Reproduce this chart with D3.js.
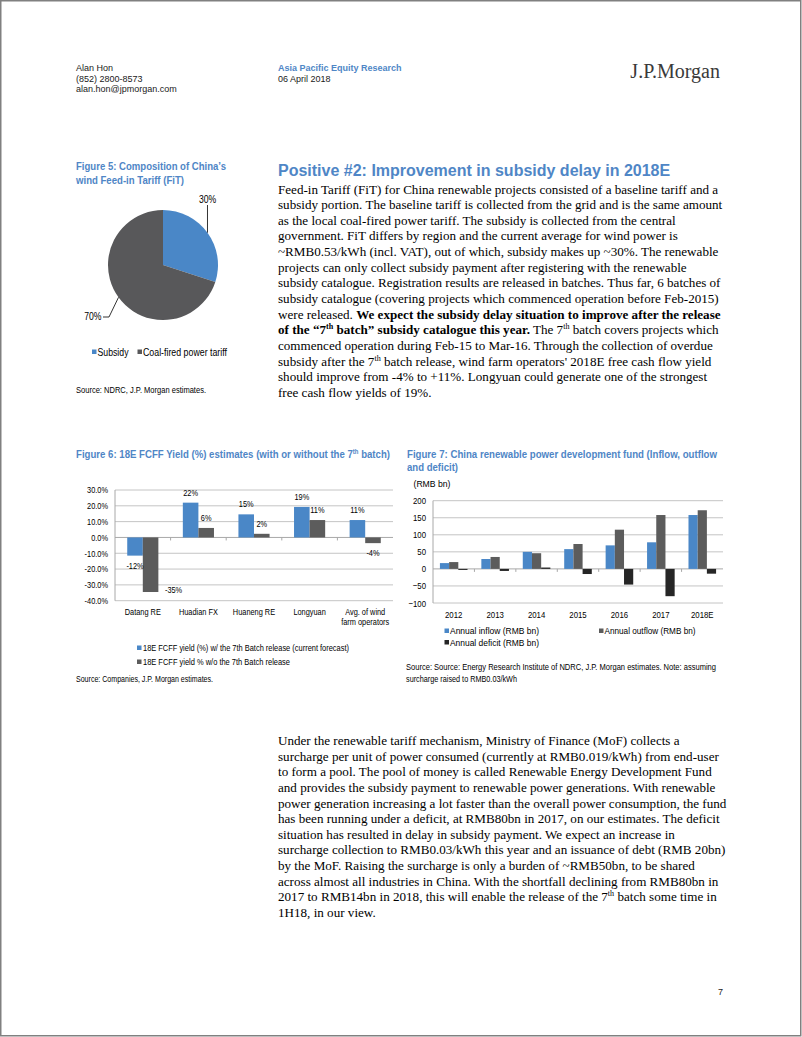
<!DOCTYPE html>
<html><head><meta charset="utf-8">
<script src="https://cdn.jsdelivr.net/npm/d3@7"></script>
<style>
html,body{margin:0;padding:0;background:#fff;}
svg{display:block;}
</style></head><body>
<svg id="page" width="802" height="1037"></svg>
<script>
// ---------------- DATA ----------------
const pieLabels = ["Subsidy", "Coal-fired power tariff"];
const pieValues = [30, 70];
const pieValueLabels = ["30%", "70%"];

const fcffCompanies = ["Datang RE", "Huadian FX", "Huaneng RE", "Longyuan", "Avg. of wind|farm operators"];
const fcffWith = [-11.5, 22, 14.6, 19.3, 11];
const fcffWithout = [-34.5, 6, 2.3, 11, -3.6];
const fcffWithLabels = ["-12%", "22%", "15%", "19%", "11%"];
const fcffWithoutLabels = ["-35%", "6%", "2%", "11%", "-4%"];
const fcffTicks = [30, 20, 10, 0, -10, -20, -30, -40];
const fcffSeries = ["18E FCFF yield (%) w/ the 7th Batch release (current forecast)", "18E FCFF yield % w/o the 7th Batch release"];

const fundYears = ["2012", "2013", "2014", "2015", "2016", "2017", "2018E"];
const fundInflow = [17, 29, 50, 58, 69, 78, 158];
const fundOutflow = [20, 35, 46, 73, 115, 158, 172];
const fundDeficit = [-3, -6, 4, -15, -46, -80, -14];
const fundTicks = [200, 150, 100, 50, 0, -50, -100];
const fundSeries = ["Annual inflow (RMB bn)", "Annual outflow (RMB bn)", "Annual deficit (RMB bn)"];

const bodyTop = [
  "Feed-in Tariff (FiT) for China renewable projects consisted of a baseline tariff and a",
  "subsidy portion. The baseline tariff is collected from the grid and is the same amount",
  "as the local coal-fired power tariff. The subsidy is collected from the central",
  "government. FiT differs by region and the current average for wind power is",
  "~RMB0.53/kWh (incl. VAT), out of which, subsidy makes up ~30%. The renewable",
  "projects can only collect subsidy payment after registering with the renewable",
  "subsidy catalogue. Registration results are released in batches. Thus far, 6 batches of",
  "subsidy catalogue (covering projects which commenced operation before Feb-2015)",
  "were released. **We expect the subsidy delay situation to improve after the release**",
  "**of the \u201c7^th batch\u201d subsidy catalogue this year.** The 7^th batch covers projects which",
  "commenced operation during Feb-15 to Mar-16. Through the collection of overdue",
  "subsidy after the 7^th batch release, wind farm operators' 2018E free cash flow yield",
  "should improve from -4% to +11%. Longyuan could generate one of the strongest",
  "free cash flow yields of 19%."
];
const bodyBottom = [
  "Under the renewable tariff mechanism, Ministry of Finance (MoF) collects a",
  "surcharge per unit of power consumed (currently at RMB0.019/kWh) from end-user",
  "to form a pool. The pool of money is called Renewable Energy Development Fund",
  "and provides the subsidy payment to renewable power generations. With renewable",
  "power generation increasing a lot faster than the overall power consumption, the fund",
  "has been running under a deficit, at RMB80bn in 2017, on our estimates. The deficit",
  "situation has resulted in delay in subsidy payment. We expect an increase in",
  "surcharge collection to RMB0.03/kWh this year and an issuance of debt (RMB 20bn)",
  "by the MoF. Raising the surcharge is only a burden of ~RMB50bn, to be shared",
  "across almost all industries in China. With the shortfall declining from RMB80bn in",
  "2017 to RMB14bn in 2018, this will enable the release of the 7^th batch some time in",
  "1H18, in our view."
];

// ---------------- STYLE ----------------
const BLUE = "#4a87c7";
const TITLE = "#4f86c6";
const GRAY = "#5c5c5c";
const DARK = "#262626";
const PIEGRAY = "#58585a";
const GRID = "#c4c4c4";
const AXIS = "#a8a8a8";

const NARROW_OK = (() => {
  const c = document.createElement("canvas").getContext("2d");
  c.font = '20px "Liberation Sans Narrow", monospace';
  const a = c.measureText("Datang RE abc 2018").width;
  c.font = "20px monospace";
  const b = c.measureText("Datang RE abc 2018").width;
  return Math.abs(a - b) > 0.5;
})();
const NARROW = NARROW_OK ? '"Liberation Sans Narrow","Arial Narrow",sans-serif' : '"Liberation Sans",Arial,sans-serif';
const SANS = '"Liberation Sans",Arial,sans-serif';
const SERIF = '"Liberation Serif","Times New Roman",serif';

const svg = d3.select("#page");
svg.append("rect").attr("x", 0.75).attr("y", 0.75).attr("width", 800).attr("height", 1035)
  .attr("fill", "#fff").attr("stroke", "#808080").attr("stroke-width", 1.5);

function rich(t, str, fs) {
  const parts = str.split(/(\*\*|\^th)/);
  let bold = false, down = false;
  parts.forEach(p => {
    if (p === "**") { bold = !bold; return; }
    if (p === "") return;
    if (p === "^th") {
      const s = t.append("tspan").attr("dy", -fs * 0.38).attr("font-size", fs * 0.62).text("th");
      if (bold) s.attr("font-weight", "bold");
      down = true; return;
    }
    const s = t.append("tspan").text(p);
    if (bold) s.attr("font-weight", "bold");
    if (down) { s.attr("dy", fs * 0.38); down = false; }
  });
}
function addText(g, x, y, str, o = {}) {
  const fs = o.fs || 9;
  const t = g.append("text").attr("x", x).attr("y", y)
    .attr("font-family", o.ff || NARROW).attr("font-size", fs)
    .attr("fill", o.fill || "#000").attr("text-anchor", o.anchor || "start");
  if (o.bold) t.attr("font-weight", "bold");
  if (o.w) t.attr("textLength", o.w).attr("lengthAdjust", "spacingAndGlyphs");
  else if (!o.ff) t.classed("n", true);
  rich(t, str, fs);
  return t;
}

// ---------------- HEADER ----------------
addText(svg, 76, 71, "Alan Hon", {ff: SANS, fill: "#1a1a1a"});
addText(svg, 76, 81.5, "(852) 2800-8573", {ff: SANS, fill: "#1a1a1a"});
addText(svg, 76, 92, "alan.hon@jpmorgan.com", {ff: SANS, fill: "#1a1a1a"});
addText(svg, 278, 71, "Asia Pacific Equity Research", {ff: SANS, bold: true, fill: TITLE});
addText(svg, 278, 81.5, "06 April 2018", {ff: SANS, fill: "#1a1a1a"});
addText(svg, 720, 77.5, "J.P.Morgan", {ff: SERIF, fs: 20, fill: "#3a3a3a", anchor: "end"});
addText(svg, 723, 995, "7", {ff: SANS, fill: "#1a1a1a", anchor: "end"});

// ---------------- BODY ----------------
addText(svg, 278, 175.5, "Positive #2: Improvement in subsidy delay in 2018E", {ff: SANS, fs: 16, bold: true, fill: TITLE});
bodyTop.forEach((l, i) => addText(svg, 278, 193.5 + i * 15.64, l, {ff: SERIF, fs: 13.1}));
bodyBottom.forEach((l, i) => addText(svg, 278, 745 + i * 15.64, l, {ff: SERIF, fs: 13.1}));

// ---------------- FIGURE 5 (pie) ----------------
addText(svg, 76, 169.5, "Figure 5: Composition of China\u2019s", {fs: 11.5, bold: true, fill: TITLE, w: 150});
addText(svg, 76, 184, "wind Feed-in Tariff (FiT)", {fs: 11.5, bold: true, fill: TITLE, w: 108});
const g5 = svg.append("g").attr("transform", "translate(163,265)");
const R = 55;
const pie = d3.pie().sort(null).value(d => d)(pieValues);
const arc = d3.arc().innerRadius(0).outerRadius(R);
const edge = d3.arc().innerRadius(R).outerRadius(R);
const pieColors = [BLUE, PIEGRAY];
g5.selectAll("path").data(pie).join("path").attr("d", arc).attr("fill", (d, i) => pieColors[i]);
const e0 = edge.centroid(pie[0]), e1 = edge.centroid(pie[1]);
g5.append("path").attr("d", `M${e0[0]},${e0[1]}V${205 - 265}`).attr("stroke", "#000").attr("stroke-width", 0.8).attr("fill", "none");
g5.append("path").attr("d", `M${e1[0]},${e1[1]}L${109 - 163},${317 - 265}H${103 - 163}`).attr("stroke", "#000").attr("stroke-width", 0.8).attr("fill", "none");
addText(g5, e0[0], 203 - 265, pieValueLabels[0], {fs: 10.5, anchor: "middle"});
addText(g5, 101.5 - 163, 320 - 265, pieValueLabels[1], {fs: 10.5, anchor: "end"});
const leg5x = [92, 137.5], leg5w = [31, 84];
pieLabels.forEach((l, i) => {
  svg.append("rect").attr("x", leg5x[i]).attr("y", 349.5).attr("width", 4.5).attr("height", 4.5).attr("fill", pieColors[i]);
  addText(svg, leg5x[i] + 5.5, 355.5, l, {fs: 10.5, w: leg5w[i]});
});
addText(svg, 76, 393, "Source: NDRC, J.P. Morgan estimates.", {fs: 9, w: 130});

// ---------------- FIGURE 6 (FCFF) ----------------
addText(svg, 76, 458, "Figure 6: 18E FCFF Yield (%) estimates (with or without the 7^th batch)", {fs: 11.5, bold: true, fill: TITLE, w: 314});
const g6 = svg.append("g");
const x6 = d3.scaleBand().domain(fcffCompanies).range([115, 393]);
const y6 = d3.scaleLinear().domain([-40, 30]).range([600.7, 490]);
g6.selectAll("line.grid").data(fcffTicks).join("line").attr("class", "grid")
  .attr("x1", 115).attr("x2", 393).attr("y1", d => y6(d)).attr("y2", d => y6(d))
  .attr("stroke", d => d === 0 ? AXIS : GRID).attr("stroke-width", 1);
g6.append("line").attr("x1", 115).attr("x2", 115).attr("y1", y6(30)).attr("y2", y6(-40)).attr("stroke", AXIS);
g6.selectAll("line.tk").data(fcffCompanies.slice(1)).join("line").attr("class", "tk")
  .attr("x1", d => x6(d)).attr("x2", d => x6(d)).attr("y1", y6(0)).attr("y2", y6(0) + 3).attr("stroke", AXIS);
const ax6 = g6.append("g").attr("transform", "translate(115,0)")
  .call(d3.axisLeft(y6).tickValues(fcffTicks).tickFormat(d => d.toFixed(1) + "%").tickSize(0).tickPadding(7));
ax6.select(".domain").remove();
ax6.attr("font-family", NARROW).attr("font-size", 9);
ax6.selectAll("text").attr("fill", "#000").classed("n", true);
const bw6 = x6.bandwidth() * 0.28;
const cx6 = d => x6(d) + x6.bandwidth() / 2;
g6.selectAll("rect.w").data(fcffWith).join("rect").attr("class", "w")
  .attr("x", (d, i) => cx6(fcffCompanies[i]) - bw6).attr("width", bw6)
  .attr("y", d => y6(Math.max(0, d))).attr("height", d => Math.abs(y6(d) - y6(0))).attr("fill", BLUE);
g6.selectAll("rect.wo").data(fcffWithout).join("rect").attr("class", "wo")
  .attr("x", (d, i) => cx6(fcffCompanies[i])).attr("width", bw6)
  .attr("y", d => y6(Math.max(0, d))).attr("height", d => Math.abs(y6(d) - y6(0))).attr("fill", GRAY);
function barLabel(g, v, cx, txt) {
  if (v >= 0) addText(g, cx, y6(v) - 7, txt, {anchor: "middle"});
  else if (y6(v) + 13 > y6(-40)) addText(g, cx + 23, y6(v) + 0.5, txt, {anchor: "middle"});
  else addText(g, cx, y6(v) + 13, txt, {anchor: "middle"});
}
fcffWith.forEach((v, i) => barLabel(g6, v, cx6(fcffCompanies[i]) - bw6 / 2, fcffWithLabels[i]));
fcffWithout.forEach((v, i) => barLabel(g6, v, cx6(fcffCompanies[i]) + bw6 / 2, fcffWithoutLabels[i]));
fcffCompanies.forEach(c => {
  c.split("|").forEach((ln, j) => addText(g6, cx6(c), 615 + j * 10, ln, {anchor: "middle"}));
});
const leg6w = [206, 147];
[BLUE, GRAY].forEach((col, i) => {
  svg.append("rect").attr("x", 137).attr("y", 645.5 + i * 14).attr("width", 4.5).attr("height", 4.5).attr("fill", col);
  addText(svg, 143, 651 + i * 14, fcffSeries[i], {fs: 9, w: leg6w[i]});
});
addText(svg, 76, 682, "Source: Companies, J.P. Morgan estimates.", {fs: 9, w: 137});

// ---------------- FIGURE 7 (fund) ----------------
addText(svg, 407, 458, "Figure 7: China renewable power development fund (Inflow, outflow", {fs: 11.5, bold: true, fill: TITLE, w: 310});
addText(svg, 407, 471, "and deficit)", {fs: 11.5, bold: true, fill: TITLE, w: 51});
addText(svg, 413.5, 486.5, "(RMB bn)", {fs: 9.5, w: 37});
const g7 = svg.append("g");
const x7 = d3.scaleBand().domain(fundYears).range([433, 723]);
const y7 = d3.scaleLinear().domain([-100, 200]).range([603, 500.7]);
g7.selectAll("line.grid").data(fundTicks).join("line").attr("class", "grid")
  .attr("x1", 433).attr("x2", 723).attr("y1", d => y7(d)).attr("y2", d => y7(d))
  .attr("stroke", d => d === 0 ? AXIS : GRID);
g7.append("line").attr("x1", 433).attr("x2", 433).attr("y1", y7(200)).attr("y2", y7(-100)).attr("stroke", AXIS);
g7.selectAll("line.tk").data(fundYears.slice(1)).join("line").attr("class", "tk")
  .attr("x1", d => x7(d)).attr("x2", d => x7(d)).attr("y1", y7(0)).attr("y2", y7(0) + 3).attr("stroke", AXIS);
const ax7 = g7.append("g").attr("transform", "translate(433,0)")
  .call(d3.axisLeft(y7).tickValues(fundTicks).tickFormat(d3.format("d")).tickSize(0).tickPadding(7));
ax7.select(".domain").remove();
ax7.attr("font-family", NARROW).attr("font-size", 9.5);
ax7.selectAll("text").attr("fill", "#000").classed("n", true);
const bw7 = x7.bandwidth() * 0.222;
const fundSets = [fundInflow, fundOutflow, fundDeficit];
const fundColors = [BLUE, GRAY, DARK];
fundSets.forEach((arr, k) => {
  g7.selectAll("rect.s" + k).data(arr).join("rect").attr("class", "s" + k)
    .attr("x", (d, i) => x7(fundYears[i]) + x7.bandwidth() / 2 - 1.5 * bw7 + k * bw7).attr("width", bw7)
    .attr("y", d => y7(Math.max(0, d))).attr("height", d => Math.abs(y7(d) - y7(0))).attr("fill", fundColors[k]);
});
fundYears.forEach(yr => addText(g7, x7(yr) + x7.bandwidth() / 2, 618, yr, {fs: 9.5, anchor: "middle"}));
const leg7 = [[444.5, 628.5], [599, 628.5], [444.5, 640]];
const leg7w = [89, 91, 89];
leg7.forEach((p, i) => {
  svg.append("rect").attr("x", p[0]).attr("y", p[1]).attr("width", 4.5).attr("height", 4.5).attr("fill", fundColors[i]);
  addText(svg, p[0] + 5.5, p[1] + 5.8, fundSeries[i], {fs: 9.5, w: leg7w[i]});
});
addText(svg, 406, 670, "Source: Source: Energy Research Institute of NDRC, J.P. Morgan estimates. Note: assuming", {fs: 9, w: 310});
addText(svg, 406, 682, "surcharge raised to RMB0.03/kWh", {fs: 9, w: 111});

// narrow fallback
if (!NARROW_OK) {
  svg.selectAll("text.n").each(function () {
    const L = this.getComputedTextLength();
    this.setAttribute("textLength", L * 0.82);
    this.setAttribute("lengthAdjust", "spacingAndGlyphs");
  });
}
</script>
</body></html>
